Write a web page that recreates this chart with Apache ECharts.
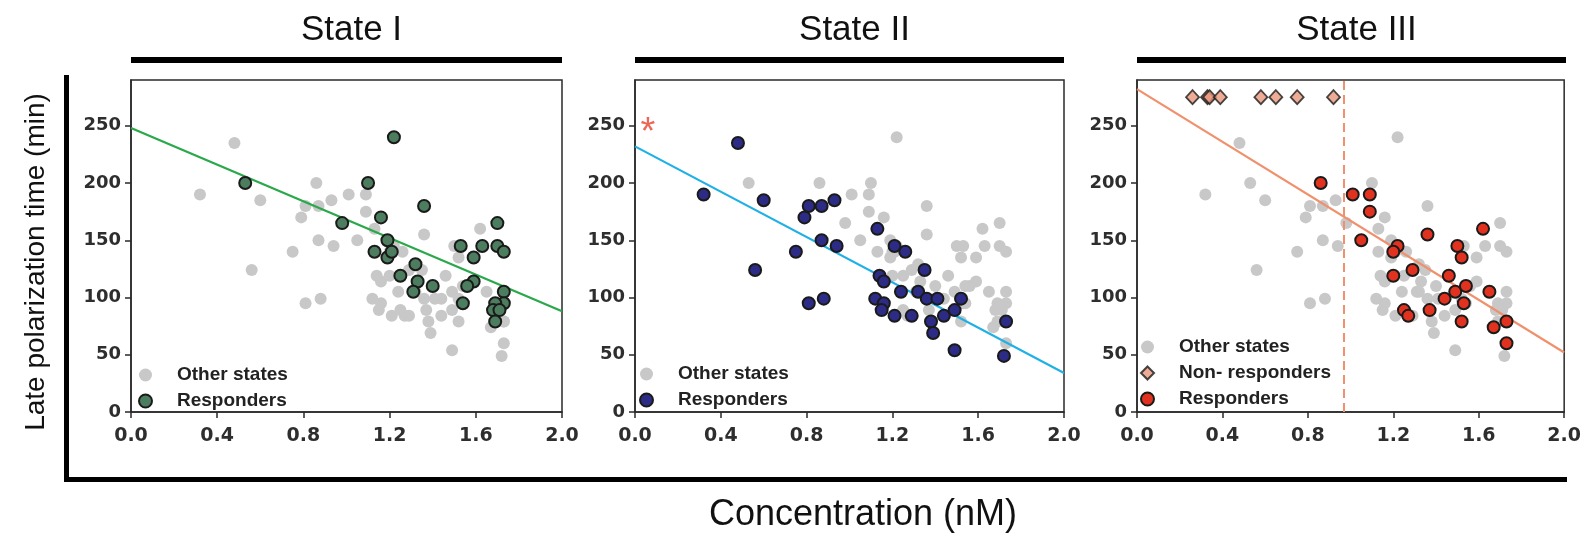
<!DOCTYPE html>
<html><head><meta charset="utf-8">
<script src="https://cdn.jsdelivr.net/npm/echarts@6/dist/echarts.min.js"></script>
<style>html,body{margin:0;padding:0;background:#fff}#c{width:1584px;height:537px}</style>
</head><body><div id="c"></div>
<script>
// ---------- data ----------
const panelTitles = ['State I', 'State II', 'State III'];
const xTickValues = [0, 0.4, 0.8, 1.2, 1.6, 2.0];
const yTickValues = [0, 50, 100, 150, 200, 250];
const xLabel = 'Concentration (nM)';
const yLabel = 'Late polarization time (min)';

// responders of each state: [concentration nM, late polarization time min]
const respondersI = [
  [0.53,200],[1.22,240],[1.10,200],[0.98,165],[1.16,170],[1.36,180],[1.19,150],[1.13,140],
  [1.19,135],[1.21,140],[1.32,129],[1.25,119],[1.33,114],[1.31,105],[1.40,110],[1.53,145],
  [1.59,135],[1.63,145],[1.59,114],[1.56,110],[1.54,95],[1.70,165],[1.70,145],[1.73,140],
  [1.73,105],[1.73,95],[1.69,95],[1.68,89],[1.71,89],[1.69,79]
];
const respondersII = [
  [0.48,235],[0.32,190],[0.60,185],[0.56,124],[0.79,170],[0.81,180],[0.87,180],[0.93,185],
  [0.87,150],[0.94,145],[0.75,140],[0.81,95],[0.88,99],[1.13,160],[1.21,145],[1.26,140],
  [1.14,119],[1.16,114],[1.12,99],[1.16,95],[1.15,89],[1.21,84],[1.24,105],[1.29,84],
  [1.35,124],[1.32,105],[1.36,99],[1.41,99],[1.38,79],[1.39,69],[1.44,84],[1.49,89],
  [1.52,99],[1.49,54],[1.73,79],[1.72,49]
];
const respondersIII = [
  [0.86,200],[1.01,190],[1.09,190],[1.09,175],[1.05,150],[1.36,155],[1.62,160],[1.22,145],
  [1.20,140],[1.20,119],[1.29,124],[1.25,89],[1.27,84],[1.37,89],[1.44,99],[1.46,119],
  [1.49,105],[1.50,145],[1.52,135],[1.54,110],[1.53,95],[1.52,79],[1.65,105],[1.67,74],
  [1.73,79],[1.73,60]
];
const nonRespondersIIIx = [0.26, 0.33, 0.34, 0.39, 0.58, 0.65, 0.75, 0.92];
const nonRespondersIIIy = 275;
const fitI = [[0, 248], [2, 88]];
const fitII = [[0, 232], [2, 34]];
const fitIII = [[0, 282], [2, 52]];
const thresholdIII = 0.97;
const asteriskII = [[0.06, 250]];

// ---------- layout / style ----------
const gridLeft = [131, 635, 1137];
const gridWidth = [431, 429, 429];
const gridTop = 80, gridHeight = 332;
const respColors = ['#4b7d5e', '#2c2c86', '#e0321f'];
const lineColors = ['#2aa84a', '#1fb0e6', '#f0906c'];
const grayColor = '#c8c8c8';
const axisColor = '#2a2a2a';

const respondersAll = [respondersI, respondersII, respondersIII];
const fits = [fitI, fitII, fitIII];
const others = [0,1,2].map(i => respondersAll.filter((_, j) => j !== i).flat());

const grids = [], xAxes = [], yAxes = [], series = [], legends = [], titles = [], graphics = [];
const strip = n => n.replace(/ \d$/, '');
const legendLeft = [138, 639, 1140];
const legendTop = [365, 364, 337];

for (let i = 0; i < 3; i++) {
  grids.push({left: gridLeft[i], top: gridTop, width: gridWidth[i], height: gridHeight,
    show: true, borderColor: axisColor, borderWidth: 1.5, backgroundColor: 'transparent'});
  xAxes.push({gridIndex: i, type: 'value', min: 0, max: 2, interval: 0.4,
    axisLine: {show: true, onZero: false, lineStyle: {color: axisColor, width: 1.5}},
    axisTick: {show: true, length: 6, lineStyle: {color: axisColor, width: 1.5}},
    splitLine: {show: false},
    axisLabel: {formatter: v => v.toFixed(1), fontFamily: 'DejaVu Sans', fontWeight: 'bold',
      fontSize: 19, color: '#2e2e2e', margin: 15}});
  yAxes.push({gridIndex: i, type: 'value', min: 0, max: 290, interval: 50,
    axisLine: {show: true, onZero: false, lineStyle: {color: axisColor, width: 1.5}},
    axisTick: {show: true, length: 6, customValues: yTickValues, lineStyle: {color: axisColor, width: 1.5}},
    splitLine: {show: false},
    axisLabel: {customValues: yTickValues, fontFamily: 'DejaVu Sans', fontWeight: 'bold',
      fontSize: 18, color: '#2e2e2e', margin: 10}});
  const sfx = ' ' + (i + 1);
  series.push({type: 'scatter', name: 'Other states' + sfx, xAxisIndex: i, yAxisIndex: i,
    data: others[i], symbolSize: 12, itemStyle: {color: grayColor, opacity: 1}, z: 2});
  series.push({type: 'line', name: 'fit' + sfx, xAxisIndex: i, yAxisIndex: i, data: fits[i],
    showSymbol: false, symbol: 'none', lineStyle: {color: lineColors[i], width: 2.2}, z: 3,
    markLine: i === 2 ? {symbol: 'none', silent: true, label: {show: false},
      lineStyle: {type: [9, 5], color: lineColors[2], width: 2},
      data: [{xAxis: thresholdIII}]} : undefined});
  const legendData = ['Other states' + sfx];
  if (i === 2) {
    series.push({type: 'scatter', name: 'Non- responders' + sfx, xAxisIndex: i, yAxisIndex: i,
      data: nonRespondersIIIx.map(x => [x, nonRespondersIIIy]), symbol: 'diamond', symbolSize: [13, 14],
      itemStyle: {color: '#e8977c', borderColor: '#1a1a1a', borderWidth: 1.8}, z: 4});
    legendData.push('Non- responders' + sfx);
  }
  series.push({type: 'scatter', name: 'Responders' + sfx, xAxisIndex: i, yAxisIndex: i,
    data: respondersAll[i], symbolSize: 12,
    itemStyle: {color: respColors[i], borderColor: '#1a1a1a', borderWidth: 2, opacity: 1}, z: 5});
  legendData.push('Responders' + sfx);
  legends.push({data: legendData, left: legendLeft[i], top: legendTop[i], orient: 'vertical',
    itemWidth: 13, itemHeight: 13, itemGap: 6, padding: 0, selectedMode: false, formatter: strip,
    textStyle: {fontFamily: 'Liberation Sans, Arial, sans-serif', fontWeight: 'bold', fontSize: 19,
      color: '#222', lineHeight: 20, padding: [0, 0, 0, 20]}});
  titles.push({text: panelTitles[i], left: gridLeft[i] + gridWidth[i] / 2, top: 8, textAlign: 'center',
    textStyle: {fontFamily: 'Liberation Sans, Arial, sans-serif', fontWeight: 'normal', fontSize: 35, color: '#111'}});
  graphics.push({type: 'rect', shape: {x: gridLeft[i], y: 57, width: gridWidth[i], height: 6},
    style: {fill: '#000'}, silent: true});
}
series.push({type: 'scatter', name: 'asterisk', xAxisIndex: 1, yAxisIndex: 1, data: asteriskII,
  symbolSize: 1, itemStyle: {color: 'rgba(0,0,0,0)'}, z: 6,
  label: {show: true, position: 'inside', formatter: '*', offset: [0, 8],
    fontFamily: 'Liberation Sans, Arial, sans-serif', fontSize: 38, color: '#e8402a'}});

graphics.push({type: 'rect', shape: {x: 64, y: 75, width: 5, height: 407}, style: {fill: '#000'}, silent: true});
graphics.push({type: 'rect', shape: {x: 64, y: 477, width: 1503, height: 5}, style: {fill: '#000'}, silent: true});
graphics.push({type: 'text', x: 863, y: 515, style: {text: xLabel, fontFamily: 'Liberation Sans, Arial, sans-serif',
  fontSize: 36, fill: '#111', textAlign: 'center', textVerticalAlign: 'middle'}, silent: true});
graphics.push({type: 'text', x: 36, y: 262, rotation: Math.PI / 2, style: {text: yLabel,
  fontFamily: 'Liberation Sans, Arial, sans-serif', fontSize: 28, fill: '#111', textAlign: 'center',
  textVerticalAlign: 'middle'}, silent: true});

const chart = echarts.init(document.getElementById('c'), null, {renderer: 'canvas'});
chart.setOption({
  animation: false,
  backgroundColor: '#fff',
  title: titles,
  legend: legends,
  grid: grids,
  xAxis: xAxes,
  yAxis: yAxes,
  series: series,
  graphic: graphics
});
</script></body></html>
